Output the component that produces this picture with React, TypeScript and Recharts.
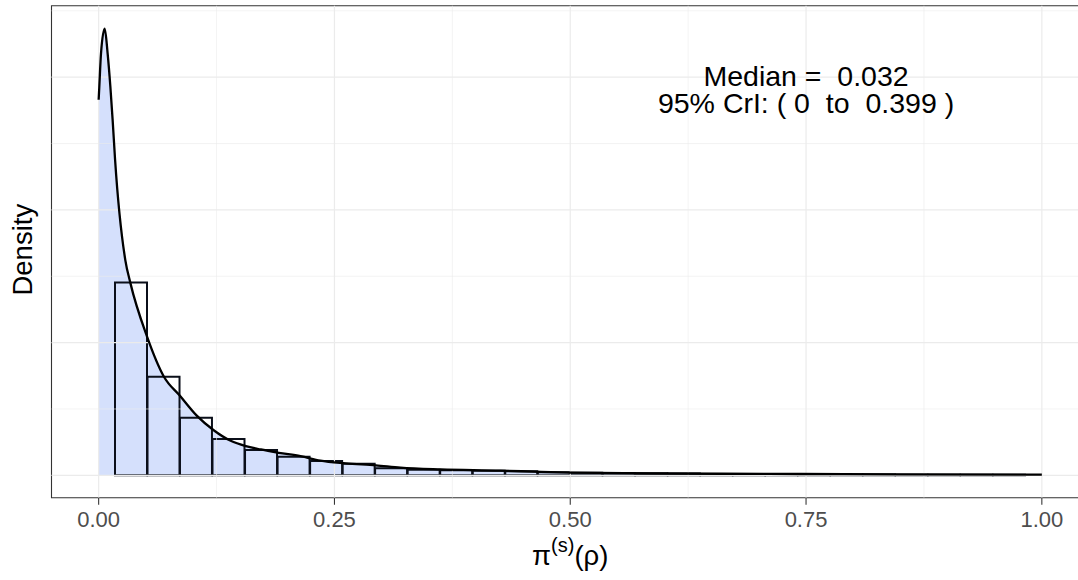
import React from 'react';
import {
  ComposedChart,
  XAxis,
  YAxis,
  Bar,
  Area,
  Line,
  Label,
  ReferenceLine,
  ReferenceArea,
  ReferenceDot,
} from 'recharts';

// histogram bins (centres) and their heights, first bin (centred on 0) is dropped in the original
const binCenters = [
  0.0345, 0.069, 0.1034, 0.1379, 0.1724, 0.2069, 0.2414, 0.2759, 0.3103, 0.3448,
  0.3793, 0.4138, 0.4483, 0.4828, 0.5172, 0.5517, 0.5862, 0.6207, 0.6552, 0.6897,
  0.7241, 0.7586, 0.7931, 0.8276, 0.8621, 0.8966, 0.931, 0.9655,
];
const binDensity = [
  14.53, 7.42, 4.34, 2.73, 1.9, 1.4, 1.08, 0.88, 0.53, 0.43,
  0.38, 0.35, 0.3, 0.24, 0.2, 0.17, 0.15, 0.13, 0.11, 0.1,
  0.09, 0.08, 0.07, 0.06, 0.05, 0.05, 0.04, 0.04,
];

// kernel density curve
const densX = [
  0, 0.0007, 0.0025, 0.0064, 0.0095, 0.0124, 0.0148, 0.0174, 0.0283, 0.0336,
  0.0513, 0.0689, 0.0866, 0.104, 0.122, 0.14, 0.156, 0.172, 0.191, 0.214,
  0.235, 0.262, 0.294, 0.32, 0.363, 0.426, 0.469, 0.5, 0.585, 0.66, 0.744, 0.85, 1,
];
const densY = [
  28.3, 29.3, 31.8, 33.65, 31.8, 29.3, 26.8, 23.8, 16.2, 14.5,
  10.45, 7.47, 5.96, 4.5, 3.4, 2.6, 2.2, 1.95, 1.7, 1.45,
  1.1, 0.9, 0.75, 0.58, 0.45, 0.36, 0.26, 0.21, 0.15, 0.12, 0.1, 0.07, 0.05,
];

const xTicks = [0, 0.25, 0.5, 0.75, 1];
const xMinor = [0.125, 0.375, 0.625, 0.875];
const yMajor = [0, 10, 20, 30];
const yMinor = [5, 15, 25, 35];

const medianValue = '0.032';
const criLow = '0';
const criHigh = '0.399';

const histData = binCenters.map((x, i) => ({ x, density: binDensity[i] }));
const densityData = densX.map((x, i) => ({ x, y: densY[i] }));

const FONT = '"Liberation Sans", Arial, Helvetica, sans-serif';
const GRID = '#EBEBEB';

const XTitle = (props: any) => {
  const { x, y, width } = props.viewBox;
  return (
    <text x={x + width / 2} y={y + 67.3} textAnchor='middle' fontFamily={FONT} fontSize={27.5} fill='#000'>
      <tspan>π</tspan>
      <tspan dy={-13} fontSize={20}>(s)</tspan>
      <tspan dy={13}>(ρ)</tspan>
    </text>
  );
};

const YTitle = (props: any) => {
  const { y, height } = props.viewBox;
  const cy = y + height / 2 - 2;
  return (
    <text
      x={23}
      y={cy}
      transform={`rotate(-90, 23, ${cy})`}
      textAnchor='middle'
      dominantBaseline='central'
      fontFamily={FONT}
      fontSize={27.5}
      fill='#000'
    >
      Density
    </text>
  );
};

const Annotation = (props: any) => {
  const { x, y } = props.viewBox;
  return (
    <text textAnchor='middle' fontFamily={FONT} fontSize={28.5} fill='#000' style={{ whiteSpace: 'pre' }}>
      <tspan x={x} y={y - 4.5}>{`Median =  ${medianValue}`}</tspan>
      <tspan x={x} y={y + 23}>{`95% CrI: ( ${criLow}  to  ${criHigh} )`}</tspan>
    </text>
  );
};

export default function App() {
  return (
    <div style={{ position: 'absolute', left: 0, top: 0, width: 1078, height: 580, overflow: 'hidden', background: '#fff' }}>
      <ComposedChart
        width={1091}
        height={580}
        data={histData}
        margin={{ top: 5.7, right: 2, bottom: 0, left: 0 }}
        barCategoryGap={0}
        barGap={0}
      >
        <XAxis
          dataKey='x'
          type='number'
          domain={[-0.05, 1.05]}
          allowDataOverflow
          ticks={xTicks}
          tickFormatter={(v: number) => v.toFixed(2)}
          height={82.3}
          axisLine={false}
          tickSize={7}
          tickMargin={7}
          tick={{ fill: '#4D4D4D', fontSize: 22, fontFamily: FONT }}
          tickLine={{ stroke: '#333333', strokeWidth: 1.07 }}
        >
          <Label content={XTitle} />
        </XAxis>
        <XAxis xAxisId='dens' dataKey='x' type='number' domain={[-0.05, 1.05]} allowDataOverflow hide />
        <YAxis
          type='number'
          domain={[-1.685, 35.385]}
          allowDataOverflow
          ticks={yMajor}
          width={51.5}
          tick={false}
          axisLine={false}
          tickLine={false}
        >
          <Label content={YTitle} />
        </YAxis>

        {xMinor.map((v) => (
          <ReferenceLine key={`xm${v}`} x={v} stroke={GRID} strokeWidth={0.6} />
        ))}
        {yMinor.map((v) => (
          <ReferenceLine key={`ym${v}`} y={v} stroke={GRID} strokeWidth={0.6} />
        ))}
        {xTicks.map((v) => (
          <ReferenceLine key={`xM${v}`} x={v} stroke={GRID} strokeWidth={1.2} />
        ))}
        {yMajor.map((v) => (
          <ReferenceLine key={`yM${v}`} y={v} stroke={GRID} strokeWidth={1.2} />
        ))}

        <Area
          xAxisId='dens'
          data={densityData}
          dataKey='y'
          type='monotone'
          baseValue={0}
          fill='#d5e0fc'
          fillOpacity={1}
          stroke='none'
          isAnimationActive={false}
        />
        <Bar dataKey='density' fill='none' stroke='#0b0f1a' strokeWidth={2} isAnimationActive={false} />
        <Line
          xAxisId='dens'
          data={densityData}
          dataKey='y'
          type='monotone'
          stroke='#000'
          strokeWidth={2.3}
          dot={false}
          isAnimationActive={false}
        />

        <ReferenceArea x1={-0.05} x2={1.05} y1={-1.685} y2={35.385} fill='none' stroke='#333333' strokeWidth={1.1} />
        <ReferenceDot x={0.75} y={29} r={0} fill='none' stroke='none' label={{ content: Annotation }} />
      </ComposedChart>
    </div>
  );
}
